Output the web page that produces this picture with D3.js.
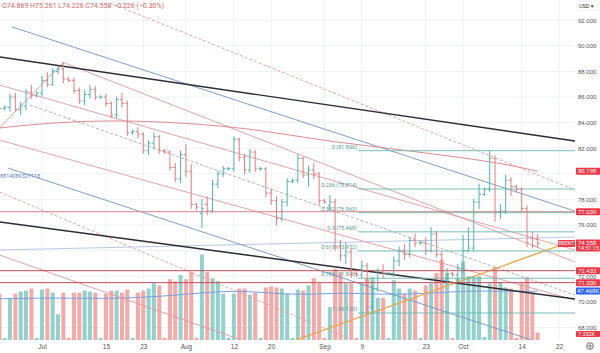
<!DOCTYPE html>
<html lang="en">
<head>
<meta charset="UTF-8">
<title>BRENT daily</title>
<script src="https://d3js.org/d3.v7.min.js"></script>
<style>
  body { margin: 0; background: #fff; }
  svg { display: block; font-family: Roboto, "DejaVu Sans", sans-serif; }
  .axis text { fill: #555; font-size: 6px; }
  .axis path, .axis line { display: none; }
  .grid line { stroke: #f0f2f5; stroke-width: 1; }
</style>
</head>
<body>
<svg id="chart" width="600" height="353"></svg>
<script>
// bars: Jun 21 2024 .. Oct 17 2024, daily with the short Sunday session, no Saturdays
const dates = d3.timeDay.range(new Date(2024, 5, 21), new Date(2024, 9, 27)).filter(d => d.getDay() !== 6);

const open = [85.5,85.1,85.2,86.0,85.0,85.3,86.4,86.1,86.3,87.3,87.0,88.0,88.2,87.4,87.3,86.5,85.7,86.2,86.6,86.0,
  86.0,85.5,84.6,85.8,85.5,83.2,83.3,83.1,81.8,82.4,82.9,81.8,81.7,80.5,79.6,81.5,80.2,77.6,76.9,77.6,
  77.1,79.2,80.0,80.4,80.4,82.7,81.3,80.3,81.7,80.4,80.4,78.5,77.9,76.5,77.8,79.4,79.5,81.2,79.9,80.3,
  80.0,77.9,77.5,77.8,74.3,73.6,73.9,72.2,72.1,72.8,69.6,71.0,72.4,72.2,72.2,73.2,74.0,73.7,74.8,74.6,
  74.6,74.0,75.3,73.7,71.8,72.2,72.1,72.6,74.0,74.2,77.8,78.4,78.8,81.2,77.0,77.1,79.5,79.0,78.8,77.3,
  75.0,74.869];
const high = [85.7,85.3,86.2,86.3,85.6,86.6,86.9,86.4,87.6,87.9,88.2,88.4,88.7,87.5,87.5,86.7,86.5,86.9,86.8,86.1,
  86.2,85.6,86.0,86.3,85.7,83.4,83.6,83.2,82.6,83.2,83.0,81.9,81.8,80.8,81.8,82.3,80.7,77.7,78.0,78.2,
  79.5,80.2,80.6,80.5,82.9,82.8,81.5,81.9,81.8,80.5,80.5,78.8,78.2,78.0,79.6,79.6,81.5,81.3,80.6,80.8,
  80.1,78.0,78.3,78.0,74.8,74.6,74.2,72.3,73.2,73.0,71.3,72.6,72.9,72.3,73.5,74.3,74.5,75.0,75.3,74.7,
  75.0,75.8,75.5,73.9,72.6,72.3,72.9,75.2,75.8,78.0,79.2,78.9,81.806,81.4,77.6,79.9,79.7,79.1,78.9,77.5,
  75.4,75.261];
const low = [84.9,85.0,84.9,84.9,84.6,85.0,85.9,86.0,86.1,86.8,86.9,87.8,87.1,87.2,86.3,85.5,85.4,85.9,85.8,85.9,
  85.3,84.4,84.4,85.2,83.0,83.1,82.8,81.6,81.5,82.0,81.6,81.6,80.3,79.4,79.3,79.8,77.3,77.2,75.8,76.8,
  77.0,78.9,79.8,80.3,80.2,81.0,80.0,80.1,80.2,80.3,78.2,77.6,76.0,76.3,77.5,79.3,79.3,79.7,79.0,79.6,
  77.6,77.7,77.2,74.0,73.2,73.0,71.9,72.0,71.9,69.129,69.3,70.8,71.9,72.1,72.0,72.8,73.3,73.5,74.3,74.5,
  73.7,73.9,73.5,71.5,71.4,72.0,71.6,72.3,73.9,74.0,77.3,78.3,78.6,76.3,76.5,76.9,78.3,78.6,77.0,74.3,
  74.2,74.226];
const close = [85.1,85.2,86.0,85.0,85.3,86.4,86.1,86.3,87.3,87.0,88.0,88.2,87.4,87.3,86.5,85.7,86.2,86.6,86.0,86.0,
  85.5,84.6,85.8,85.5,83.2,83.3,83.1,81.8,82.4,82.9,81.8,81.7,80.5,79.6,81.5,80.2,77.6,77.4,77.3,77.1,
  79.2,80.0,80.4,80.4,82.7,81.3,80.3,81.7,80.4,80.4,78.5,77.9,76.5,77.8,79.4,79.5,81.2,79.9,80.3,80.0,
  77.9,77.8,77.8,74.3,73.6,73.9,72.2,72.1,72.8,69.6,71.0,72.4,72.2,72.2,73.2,74.0,73.7,74.8,74.6,74.6,
  74.0,75.3,73.7,71.8,72.2,72.1,72.6,74.0,74.2,77.8,78.4,78.8,81.2,77.0,77.1,79.5,79.0,78.8,77.3,74.6,
  74.4,74.558];
// volume in thousands
const volume = [45,2,41,45,47,48,50,2,49,50,46,25,46,2,46,46,48,47,46,2,
  45,48,48,46,49,2,46,48,50,55,53,2,59,57,63,59,66,2,83,66,
  60,57,45,2,45,50,50,44,46,2,51,52,51,50,45,2,49,48,53,60,
  55,2,32,69,65,55,55,2,55,60,61,41,41,2,58,50,45,50,48,2,
  53,55,65,78,65,2,60,76,62,62,62,3,55,71,56,51,50,2,55,61,
  46,7.352];

// moving averages: [bar index, value]
const priceMA = [[0,83.58],[11,84.05],[24,84.2],[38,83.89],[49,83.42],[60,82.64],[71,82.1],[83,81.47],[94,80.85],[101,80.198]];
const volumeMA = [[0,40],[10,41],[20,40],[30,42],[38,46],[45,48],[52,45],[58,44],[64,46],[72,44],[80,45],[88,48],[95,47],[101,47.468]];

// trend lines drawn on the chart: [bar index, price] pairs
const blackLines = [[[0, 89.13], [108, 82.56]], [[0, 76.24], [108, 70.22]]];
const blueLines = [[[2.4, 91.47], [108, 77.09]], [[1.6, 80.45], [100, 67.0]]];
const pinkLines = [[[12, 88.7], [108, 73.11]], [[0, 83.58], [12, 88.7]], [[0, 86.94], [108, 74.05]],
  [[0, 82.64], [108, 70.14]], [[0, 73.66], [45.5, 67.0]]];
const dashedPinkLines = [[[20.8, 93.34], [108, 78.74]], [[0, 78.58], [65.4, 67.17]]];
const dashedGreyLines = [[[5.75, 85.37], [108, 70.53]]];
const orangeLines = [[[55.5, 67.0], [108, 74.83]]];
const lightBlueLines = [[[0, 74.05], [108, 75.06]]];
const blueLineLabel = "8814089327118";

const hLines = [77.039, 72.433, 71.5];
const fibRatios = [0, 0.236, 0.382, 0.5, 0.618, 0.786, 1];
const fibHigh = 81.806, fibLow = 69.129;
const fibRange = [67.3, 108];

const gridTicks = d3.range(68, 93, 2);
const priceTicks = [68, 70, 72, 76, 78, 82, 84, 86, 88, 90, 92];   // 74 and 80 sit under the price tags
const tickDates = ["2024-07-01","2024-07-15","2024-07-23","2024-08-01","2024-08-12","2024-08-20",
  "2024-09-01","2024-09-09","2024-09-23","2024-10-01","2024-10-14","2024-10-22"];
const tickLabels = ["Jul","15","23","Aug","12","20","Sep","9","23","Oct","14","22"];

const last = { o: 74.869, h: 75.261, l: 74.226, c: 74.558, chg: -0.226, pct: -0.30 };

const plotRight = 575, plotBottom = 340;
const svg = d3.select("#chart");
const fmt = d3.timeFormat("%Y-%m-%d");
const dateIndex = new Map(dates.map((d, i) => [fmt(d), i]));

const x = d3.scaleLinear().domain([8, 105]).range([42, 559]);
const y = d3.scaleLinear().domain([fibLow, fibHigh]).range([313, 150.7]);
const yv = d3.scaleLinear().domain([0, 100]).range([plotBottom, 237]);

svg.append("clipPath").attr("id", "plot")
  .append("rect").attr("width", plotRight).attr("height", plotBottom);

// grid
const grid = svg.append("g").attr("class", "grid");
grid.selectAll(".h").data(gridTicks).join("line")
  .attr("x1", 0).attr("x2", plotRight).attr("y1", d => y(d)).attr("y2", d => y(d));
grid.selectAll(".v").data(tickDates).join("line")
  .attr("x1", d => x(dateIndex.get(d))).attr("x2", d => x(dateIndex.get(d)))
  .attr("y1", 0).attr("y2", plotBottom);

const plot = svg.append("g").attr("clip-path", "url(#plot)");
const up = i => close[i] >= open[i];

// volume
plot.selectAll(".vol").data(volume).join("rect")
  .attr("x", (d, i) => x(i) - 2).attr("width", 4)
  .attr("y", d => yv(d)).attr("height", d => plotBottom - yv(d))
  .attr("fill", (d, i) => up(i) ? "#92d2cc" : "#f7a9a7");

plot.append("path").datum(volumeMA)
  .attr("d", d3.line().x(d => x(d[0])).y(d => yv(d[1])).curve(d3.curveBasis))
  .attr("fill", "none").attr("stroke", "#7b9fe0").attr("stroke-width", 1);

// drawings
const line = d3.line().x(d => x(d[0])).y(d => y(d[1]));
function drawSet(set, color, width, dash) {
  plot.append("g").selectAll("path").data(set).join("path")
    .attr("d", line).attr("fill", "none").attr("stroke", color)
    .attr("stroke-width", width).attr("stroke-dasharray", dash || null);
}
drawSet(lightBlueLines, "#b7c9e2", 1);
drawSet(pinkLines, "#e39a9e", 0.9);
drawSet(dashedPinkLines, "#e39a9e", 0.9, "3,2");
drawSet(dashedGreyLines, "#a9a9b3", 0.9, "3,2");
drawSet(blueLines, "#6f93c4", 0.9);
drawSet(blackLines, "#2b2b33", 1.4);
drawSet(orangeLines, "#f0a340", 1.2);

plot.append("path").datum(priceMA)
  .attr("d", d3.line().x(d => x(d[0])).y(d => y(d[1])).curve(d3.curveBasis))
  .attr("fill", "none").attr("stroke", "#d98c90").attr("stroke-width", 1);

// horizontal levels
plot.selectAll(".hl").data(hLines).join("line")
  .attr("x1", 0).attr("x2", plotRight).attr("y1", d => y(d)).attr("y2", d => y(d))
  .attr("stroke", (d, i) => i === 0 ? "#d9808a" : "#c44a57").attr("stroke-width", 1);

// fibonacci retracement
const fibs = fibRatios.map(r => ({ r, v: fibHigh - r * (fibHigh - fibLow) }));
plot.selectAll(".fib").data(fibs).join("line")
  .attr("x1", x(fibRange[0])).attr("x2", x(fibRange[1]))
  .attr("y1", d => y(d.v)).attr("y2", d => y(d.v))
  .attr("stroke", "#6cb8ae").attr("stroke-width", 0.9);
plot.selectAll(".fibt").data(fibs).join("text")
  .attr("x", x(fibRange[0]) - 1).attr("y", d => y(d.v) - 2)
  .attr("text-anchor", "end").attr("font-size", 5.5).attr("fill", "#4f9c93")
  .text(d => `${d.r} (${d.v.toFixed(3)})`);

// OHLC bars
const bars = plot.append("g").selectAll("g").data(close).join("g")
  .attr("stroke", (d, i) => up(i) ? "#4db6ac" : "#ec7a78").attr("stroke-width", 1);
bars.append("line").attr("x1", (d, i) => x(i)).attr("x2", (d, i) => x(i))
  .attr("y1", (d, i) => y(high[i]) - 0.5).attr("y2", (d, i) => y(low[i]) + 0.5);
bars.append("line").attr("x1", (d, i) => x(i) - 2).attr("x2", (d, i) => x(i))
  .attr("y1", (d, i) => y(open[i])).attr("y2", (d, i) => y(open[i]));
bars.append("line").attr("x1", (d, i) => x(i)).attr("x2", (d, i) => x(i) + 2)
  .attr("y1", (d, i) => y(close[i])).attr("y2", (d, i) => y(close[i]));

plot.append("text").attr("x", 0).attr("y", y(79.7))
  .attr("font-size", 5.5).attr("fill", "#5b7fb8").text(blueLineLabel);

// header
svg.append("text").attr("x", 2).attr("y", 8).attr("font-size", 7).attr("fill", "#e5645f")
  .text(`O${last.o} H${last.h} L${last.l} C${last.c} \u2212${Math.abs(last.chg)} (\u2212${Math.abs(last.pct).toFixed(2)}%)`);

// axes
svg.append("g").attr("class", "axis").attr("transform", `translate(${plotRight + 3},0)`)
  .call(d3.axisRight(y).tickValues(priceTicks).tickFormat(d3.format(".3f")).tickSize(0).tickPadding(0));
svg.append("g").attr("class", "axis").attr("transform", `translate(0,${plotBottom + 1})`)
  .call(d3.axisBottom(x).tickValues(tickDates.map(d => dateIndex.get(d)))
    .tickFormat((d, i) => tickLabels[i]).tickSize(0).tickPadding(3))
  .selectAll("text").style("font-size", "6.5px");

// price scale labels
function tag(yPos, color, left, h) {
  const g = svg.append("g");
  g.append("rect").attr("x", left).attr("y", yPos - (h || 7) / 2).attr("width", 600 - left).attr("height", h || 7)
    .attr("rx", 1).attr("fill", color);
  return g;
}
[[priceMA[priceMA.length - 1][1], "80.198"], [77.039, "77.039"], [72.433, "72.433"], [71.5, "71.500"]]
  .forEach(([v, t]) => {
    tag(y(v), "#f23645", 576).append("text").attr("x", 578).attr("y", y(v) + 2)
      .attr("font-size", 6).attr("fill", "#fff").text(t);
  });
const lc = tag(y(last.c) + 2, "#f23645", 576, 12);
lc.append("text").attr("x", 578).attr("y", y(last.c) + 1.5).attr("font-size", 6).attr("fill", "#fff").text(last.c.toFixed(3));
lc.append("text").attr("x", 578).attr("y", y(last.c) + 7).attr("font-size", 5.5).attr("fill", "#fff").text("14:51:15");
svg.append("rect").attr("x", 558).attr("y", y(last.c) - 3.5).attr("width", 17).attr("height", 7).attr("rx", 1).attr("fill", "#f23645");
svg.append("text").attr("x", 566.5).attr("y", y(last.c) + 2).attr("text-anchor", "middle")
  .attr("font-size", 5).attr("fill", "#fff").text("BRENT");
tag(yv(volumeMA[volumeMA.length - 1][1]), "#2962ff", 576).append("text")
  .attr("x", 577).attr("y", yv(volumeMA[volumeMA.length - 1][1]) + 2).attr("font-size", 6).attr("fill", "#fff").text("47.468K");
const volTagY = yv(volume[volume.length - 1]) + 1.5;
tag(volTagY, "#f23645", 576, 6).append("text")
  .attr("x", 578).attr("y", volTagY + 2).attr("font-size", 5.5).attr("fill", "#fff").text("7.352K");

// currency box and settings icon
svg.append("rect").attr("x", 577).attr("y", 1).attr("width", 21).attr("height", 9).attr("rx", 1)
  .attr("fill", "#fff").attr("stroke", "#e0e3eb").attr("stroke-width", 0.6);
svg.append("text").attr("x", 579).attr("y", 7.8).attr("font-size", 5.5).attr("fill", "#333").text("USD \u25BE");
svg.append("circle").attr("cx", 590).attr("cy", 346).attr("r", 3.3).attr("fill", "none").attr("stroke", "#555").attr("stroke-width", 0.9);
svg.append("circle").attr("cx", 590).attr("cy", 346).attr("r", 1.2).attr("fill", "none").attr("stroke", "#555").attr("stroke-width", 0.8);
</script>
</body>
</html>
